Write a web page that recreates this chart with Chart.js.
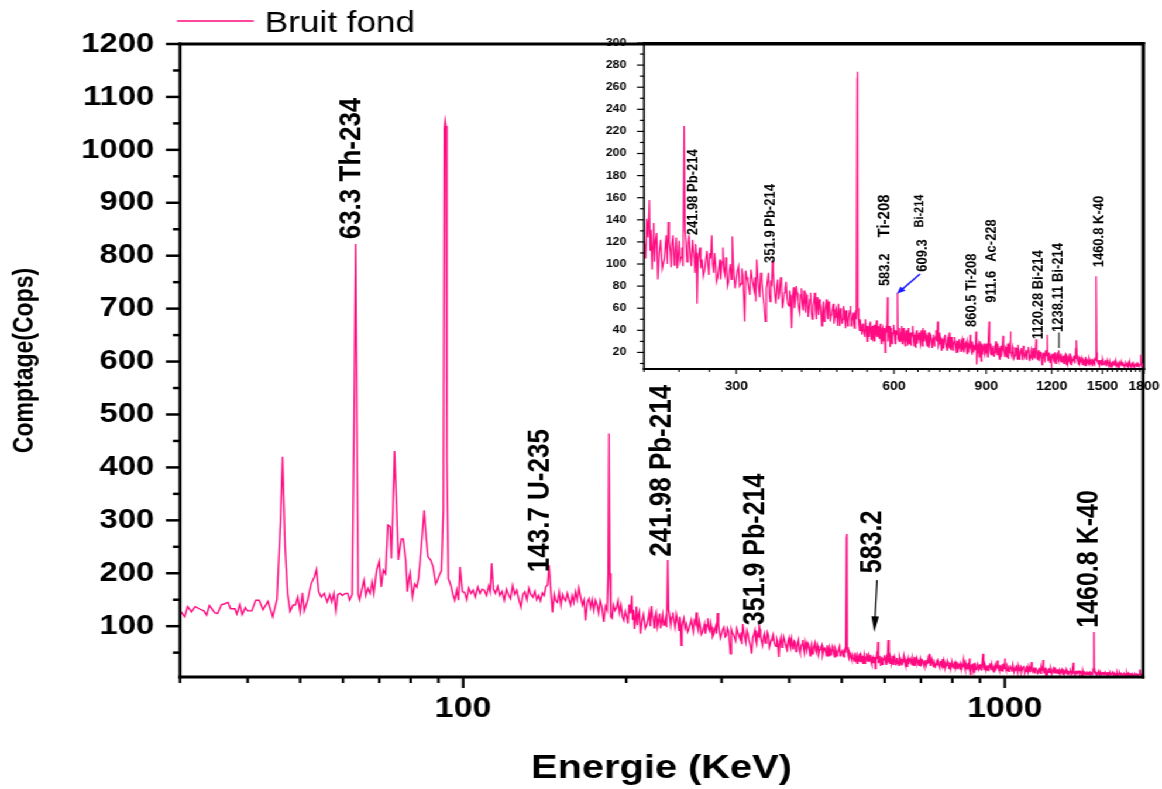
<!DOCTYPE html>
<html>
<head>
<meta charset="utf-8">
<script src="https://cdn.jsdelivr.net/npm/chart.js@4.4.1/dist/chart.umd.min.js"></script>
<style>
  html, body { margin: 0; padding: 0; background: #fff; overflow: hidden; }
  /* the original figure is stretched horizontally, so the whole stage is too */
  #stage { position: absolute; left: 0; top: 0; width: 993px; height: 789px; transform: scaleX(1.1702); transform-origin: 0 0; }
  #main { position: absolute; left: 0; top: 0; }
  #inset { position: absolute; left: 510px; top: 25px; }
</style>
</head>
<body>
<div id="stage">
  <canvas id="main" width="993" height="789"></canvas>
  <canvas id="inset" width="483" height="370"></canvas>
</div>
<script>
// ---- spectrum "Bruit fond": [energy keV, counts] ----
const spectrumLow = [
  [30,130],[30.6,118],[31,137],[31.5,127],[32,137],[32.7,132],[33.2,129],[33.6,121],[34,139],[34.8,125],
  [35.2,124],[35.8,141],[36.2,142],[36.8,145],[37.2,133],[37.9,133],[38.2,123],[38.7,141],[39.1,122],[39.6,135],
  [40,129],[40.7,129],[41.4,149],[42,149],[42.7,131],[43.6,147],[44.5,118],[45.3,150],[46,300],[46.4,420],
  [46.9,250],[47.4,162],[47.9,128],[48.5,140],[49,140],[49.5,155],[50,127],[50.5,163],[50.9,129],[51.6,149],
  [52.4,180],[53.1,193],[53.6,207],[54.1,165],[54.7,155],[55.4,162],[56.1,146],[56.7,160],[57.2,146],[57.7,162],
  [58.2,129],[58.7,160],[59.3,162],[59.8,158],[60.6,162],[61.2,162],[61.7,149],[62.4,160],[62.9,500],[63.3,822],
  [63.7,450],[64,160],[64.4,150],[65,170],[65.6,187],[66.1,158],[66.7,171],[67.3,162],[67.9,184],[68.4,162],
  [69.2,206],[70,223],[70.6,174],[71.2,206],[71.9,199],[72.6,291],[73.3,288],[73.7,228],[74.2,320],[74.7,431],
  [75.3,330],[75.9,225],[76.5,250],[76.9,265],[77.5,265],[78.3,225],[78.9,165],[79.4,190],[79.8,201],[80.6,155],
  [81.4,180],[82.1,174],[82.7,190],[83.2,218],[84,270],[84.7,319],[85.4,270],[86.1,231],[87.1,225],[88,212],
  [89,180],[89.6,186],[90.3,196],[91.2,205],[91.9,320],[92.3,1040],[92.6,1055],[92.9,1045],[93.3,420],[93.9,190],
  [94.9,177],[95.7,160],[96.5,149],[97.3,168],[98,149],[98.7,212],[99.7,165]
];
const spectrumMid = [
  [100.6,164],[101.5,150],[102.4,172],[103.4,162],[104.3,168],[105.3,155],[106.4,174],[107.4,162],[108.4,170],[109.4,168],
  [110.4,158],[111.5,176],[112.2,165],[112.9,219],[113.7,170],[114.7,162],[115.8,175],[116.8,158],[117.9,166],[119.1,149],
  [120.2,170],[121.2,160],[122.3,152],[123.4,177],[124.5,160],[125.6,168],[126.7,150],[127.8,136],[128.9,160],[130,165],
  [131.1,150],[132.2,172],[133.3,160],[134.5,155],[135.6,166],[136.7,150],[137.8,158],[138.9,148],[140,163],[141.1,158],
  [142.2,175],[143.2,178],[144.1,215],[145.1,170],[146.2,126],[147.2,160],[148.2,148],[149.3,145],[150.4,165],[151.5,140],
  [152.6,160],[153.6,152],[154.6,148],[155.7,162],[156.8,150],[157.9,140],[159,158],[160.1,145],[161.2,165],[162.4,150],
  [163.6,172],[164.8,155],[166,140],[167.2,150],[168.3,111],[169.5,145],[170.7,152],[171.9,135],[173.1,150],[174.3,130],
  [175.5,149],[176.7,140],[177.9,125],[179.1,148],[180.4,135],[181.8,108],[183.1,138],[184.4,130],[185.2,200],[185.8,464],
  [186.5,200],[187.3,118],[188.3,115],[189.5,140],[190.7,130],[191.9,135],[193.1,148],[194.3,125],[195.6,140],[196.8,118],
  [197.9,111],[199.2,128]
];
const spectrumHigh = [
  [200.5,118],[202.5,141],[204.8,158],[206.2,131],[207.3,95],[208.8,137],[210.4,120],[212.6,86],[215.2,122],[218.5,104],
  [220.5,126],[222.6,138],[224.5,112],[226.1,118],[228.4,99],[230.5,124],[232.5,108],[234.4,102],[236.5,115],[238.6,225],
  [240.5,120],[242.7,117],[245,110],[247.5,122],[249.4,105],[251,118],[252.6,64],[254.5,108],[256.8,96],[259.7,89],
  [262.4,104],[265,98],[267,110],[269.4,126],[271.7,92],[274,100],[276.5,88],[279,104],[281,95],[283,115],
  [285.5,90],[287.5,98],[290,84],[292.5,100],[294.8,125],[297,90],[300,86],[303,98],[306,82],[309,90],
  [311.5,48],[314,88],[317,78],[320,95],[323,82],[326,88],[328.2,104],[331,80],[334,92],[337,74],
  [340.9,48],[344,84],[347,72],[349.5,85],[351.9,103],[354,80],[357,64],[360,86],[363,74],[366,82],
  [369,66],[372,78],[375,70],[378,62],[380.5,72],[382.7,42],[386,79],[389,68],[392,74],[395,60],
  [398,72],[401,64],[404,76],[407,56],[410,70],[413,60],[416,74],[419,50],[422,66],[425,58],
  [428,70],[431,54],[434,64],[437,44],[440,66],[443,56],[446,68],[449,50],[452,62],[455,54],
  [458,60],[461,46],[464,58],[467,52],[470,64],[473,44],[476,56],[479,50],[482,58],[485,42],
  [488,54],[491,48],[494,58],[497,44],[500,52],[503,46],[506,55],[508.5,50],[510.2,268],[511,274],
  [511.8,60],[514,45],[517,50],[520,40]
];
// channels in between, same region (the noise band is dense)
const spectrumHighFill = [
  [201.5,105],[203.6,124],[205.5,112],[209.6,102],[211.5,128],[213.9,110],[216.8,96],[219.5,114],[221.6,100],[223.5,120],
  [225.3,97],[227.2,126],[229.4,110],[231.5,96],[233.5,121],[235.5,106],[237.5,98],[239.5,130],[241.6,102],[243.8,126],
  [246.2,98],[248.5,112],[250.2,92],[251.8,110],[253.5,100],[255.6,115],[258.2,104],[261,94],[263.7,112],[266,90],
  [268.2,105],[270.5,100],[272.8,110],[275.2,84],[277.8,96],[280,86],[282,102],[284.2,94],[286.5,106],[288.7,80],
  [291.2,94],[293.7,86],[296,104],[298.5,78],[301.5,94],[304.5,80],[307.5,96],[310.2,70],[312.7,94],[315.5,84],
  [318.5,72],[321.5,88],[324.5,76],[327,66],[329.6,90],[332.5,70],[335.5,86],[339,64],[342.5,78],[345.5,92],
  [348.2,66],[350.7,80],[353,94],[355.5,72],[358.5,80],[361.5,68],[364.5,88],[367.5,60],[370.5,74],[373.5,84],
  [376.5,64],[379.3,76],[381.6,58],[384.3,70],[387.5,60],[390.5,80],[393.5,66],[396.5,56],[399.5,78],[402.5,58],
  [405.5,66],[408.5,72],[411.5,52],[414.5,68],[417.5,56],[420.5,62],[423.5,74],[426.5,50],[429.5,62],[432.5,68],
  [435.5,56],[438.5,60],[441.5,48],[444.5,62],[447.5,54],[450.5,66],[453.5,48],[456.5,56],[459.5,64],[462.5,52],
  [465.5,60],[468.5,44],[471.5,56],[474.5,60],[477.5,46],[480.5,62],[483.5,50],[486.5,58],[489.5,44],[492.5,54],
  [495.5,62],[498.5,48],[501.5,56],[504.5,42],[507.2,58],[515.5,40],[518.5,46]
];
const spectrumTail = [
  [523,46],[526,38],[529,50],[532,36],[535,44],[538,34],[541,48],[544,40],[547,30],[550,45],
  [553,36],[556,49],[559,38],[562,33],[565,46],[568,28],[571,42],[574,36],[577,20],[580,44],
  [583.2,70],[586,38],[590,25],[593,42],[596,34],[599,45],[602,33],[605,40],[609.3,74],[612,36],
  [615,42],[618,30],[621,44],[624,34],[627,38],[630,26],[633,40],[636,35],[639,42],[642,28],
  [645,38],[648,33],[651,44],[654,30],[657,36],[660,24],[663,40],[666,32],[670,38],[674,27],
  [678,35],[682,42],[686,30],[690,36],[694,26],[698,38],[702,30],[706,34],[710,24],[714,36],
  [718,30],[722,40],[727,48],[731,28],[735,34],[739,22],[743,32],[747,28],[751,36],[755,25],
  [759,31],[763,27],[767,38],[771,22],[775,30],[779,26],[783,34],[787,24],[791,30],[795,20],
  [799,32],[803,26],[807,30],[811,22],[815,33],[819,25],[823,29],[827,19],[831,28],[835,24],
  [839,36],[843,22],[847,30],[851,20],[855,27],[860.5,39],[864,9],[868,26],[872,20],[876,30],
  [880,12],[884,26],[888,22],[892,28],[896,18],[900,25],[904,21],[908,30],[911.6,48],[915,22],
  [919,28],[924,17],[929,26],[934,20],[939,30],[944,18],[949,24],[954,14],[959,26],[964,22],
  [969,35],[974,19],[979,25],[984,16],[989,28],[994,20],[999,24],[1001,39],[1005,18],[1011,25],
  [1017,15],[1023,24],[1029,20],[1035,27],[1041,14],[1047,22],[1053,18],[1059,26],[1065,16],[1071,22],
  [1077,19],[1083,25],[1089,12],[1095,21],[1101,17],[1107,24],[1113,15],[1120.3,32],[1126,14],[1132,22],
  [1138,16],[1144,20],[1150,9],[1156,19],[1162,14],[1168,22],[1174,17],[1177,36],[1182,12],[1188,20],
  [1194,15],[1198,6],[1204,18],[1210,13],[1216,20],[1222,10],[1228,18],[1233,14],[1238.1,22],[1244,15],
  [1250,19],[1256,11],[1262,17],[1268,13],[1274,18],[1280,9],[1286,16],[1292,12],[1298,19],[1304,10],
  [1310,15],[1316,12],[1322,17],[1328,11],[1334,24],[1338,31],[1344,13],[1350,9],[1356,16],[1362,12],
  [1368,15],[1374,9],[1380,14],[1386,11],[1392,16],[1398,8],[1404,13],[1410,10],[1416,15],[1422,9],
  [1428,12],[1434,8],[1440,13],[1446,10],[1452,14],[1457,20],[1460.8,89],[1464,16],[1470,11],[1476,13],
  [1482,8],[1488,12],[1494,10],[1500,14],[1508,9],[1516,12],[1524,8],[1532,13],[1540,10],[1548,12],
  [1556,7],[1564,11],[1572,9],[1580,12],[1588,8],[1596,10],[1604,7],[1612,11],[1620,9],[1628,12],
  [1636,8],[1644,10],[1652,7],[1660,11],[1668,9],[1676,10],[1684,7],[1692,11],[1700,8],[1708,10],
  [1716,7],[1724,9],[1732,8],[1740,10],[1748,7],[1756,9],[1764,8],[1775,18],[1780,9],[1788,7],
  [1796,10],[1800,8]
];
const spectrumTailFill = [
  [521.5,36],[524.5,42],[527.5,34],[530.5,44],[533.5,30],[536.5,40],[539.5,46],[542.5,32],[545.5,44],[548.5,38],
  [551.5,30],[554.5,42],[557.5,34],[560.5,44],[563.5,38],[566.5,32],[569.5,40],[572.5,30],[575.5,42],[578.5,34],
  [581.5,38],[584.5,30],[588,44],[591.5,36],[594.5,28],[597.5,38],[600.5,40],[603.5,28],[607,36],[610.7,32],
  [613.5,30],[616.5,38],[619.5,34],[622.5,28],[625.5,42],[628.5,32],[631.5,36],[634.5,30],[637.5,26],[640.5,38],
  [643.5,34],[646.5,26],[649.5,36],[652.5,38],[655.5,26],[658.5,34],[661.5,36],[664.5,28],[668,34],[672,30],
  [676,40],[680,26],[684,34],[688,40],[692,29],[696,33],[700,24],[704,36],[708,28],[712,33],
  [716,26],[720,34],[724.5,30],[729,26],[733,38],[737,28],[741,32],[745,24],[749,34],[753,28],
  [757,22],[761,34],[765,24],[769,30],[773,34],[777,22],[781,30],[785,28],[789,20],[793,30],
  [797,24],[801,28],[805,21],[809,32],[813,26],[817,20],[821,28],[825,24],[829,30],[833,20],
  [837,26],[841,28],[845,18],[849,26],[853,24],[858,22],[862,26],[866,20],[870,28],[874,16],
  [878,24],[882,28],[886,18],[890,22],[894,26],[898,20],[902,28],[906,16],[913.5,26],[917,18],
  [921.5,24],[926.5,20],[931.5,16],[936.5,26],[941.5,22],[946.5,28],[951.5,18],[956.5,22],[961.5,16],[966.5,26],
  [971.5,22],[976.5,16],[981.5,24],[986.5,20],[991.5,14],[996.5,26],[1003,21],[1008,16],[1014,22],[1020,17],
  [1026,24],[1032,14],[1038,21],[1044,17],[1050,24],[1056,13],[1062,21],[1068,18],[1074,14],[1080,22],
  [1086,18],[1092,15],[1098,23],[1104,13],[1110,20],[1116,18],[1123,21],[1129,16],[1135,12],[1141,20],
  [1147,16],[1153,14],[1159,20],[1165,11],[1171,18],[1179,16],[1185,19],[1191,11],[1196,16],[1201,13],
  [1207,19],[1213,12],[1219,16],[1225,14],[1230.5,20],[1235.5,12],[1241,17],[1247,12],[1253,16],[1259,14],
  [1265,10],[1271,16],[1277,13],[1283,17],[1289,10],[1295,14],[1301,16],[1307,9],[1313,14],[1319,13],
  [1325,15],[1331,10],[1336,14],[1341,17],[1347,11],[1353,14],[1359,10],[1365,13],[1371,15],[1377,10],
  [1383,13],[1389,8],[1395,14],[1401,10],[1407,12],[1413,9],[1419,13],[1425,11],[1431,14],[1437,10],
  [1443,12],[1449,9],[1454.5,13],[1462.4,20],[1467,12],[1473,9],[1479,12],[1485,10],[1491,13],[1497,8],
  [1504,11],[1512,10],[1520,13],[1528,9],[1536,11],[1544,8],[1552,12],[1560,10],[1568,8],[1576,11],
  [1584,10],[1592,12],[1600,8],[1608,10],[1616,7],[1624,10],[1632,9],[1640,11],[1648,9],[1656,8],
  [1664,10],[1672,7],[1680,11],[1688,8],[1696,9],[1704,7],[1712,9],[1720,10],[1728,7],[1736,9],
  [1744,8],[1752,10],[1760,7],[1769,9],[1784,8],[1792,9]
];

// ---- ticks ----
const mainXTicks = [30, 40, 50, 60, 70, 80, 90, 100, 200, 300, 400, 500, 600, 700, 800, 900, 1000];
const mainXLabels = [100, 1000];
const mainYTicks = [100, 200, 300, 400, 500, 600, 700, 800, 900, 1000, 1100, 1200];
const insetXTicks = [300, 600, 900, 1200, 1500, 1800];
const insetYTicks = [20, 40, 60, 80, 100, 120, 140, 160, 180, 200, 220, 240, 260, 280, 300];

const seriesName = 'Bruit fond';
const pink = '#ff0a80';
const FONT = 'Arial, "Liberation Sans", sans-serif';

const spectrum = [...spectrumLow, ...spectrumMid, ...spectrumHigh, ...spectrumHighFill, ...spectrumTail, ...spectrumTailFill]
  .sort((a, b) => a[0] - b[0])
  .map(p => ({ x: p[0], y: p[1] }));

// minor tick positions (style only)
const mainXMinor = mainXTicks.filter(v => !mainXLabels.includes(v));
const mainYMinor = mainYTicks.map(v => v - 50);
const insetYMinor = insetYTicks.map(v => v - 10);
const insetXMinor = [];
for (let k = 6; k <= 54; k++) if (k % 9) insetXMinor.push(k * 100 / 3);

Chart.defaults.font.family = FONT;
Chart.defaults.color = '#000';

function rotLabel(ctx, text, x, y, size, weight) {
  ctx.save();
  ctx.font = (weight || 'bold') + ' ' + size + 'px ' + FONT;
  ctx.fillStyle = '#000';
  ctx.translate(x + size * 0.358, y);
  ctx.rotate(-Math.PI / 2);
  ctx.textAlign = 'left';
  ctx.textBaseline = 'alphabetic';
  ctx.fillText(text, 0, 0);
  ctx.restore();
}

function arrow(ctx, x1, y1, x2, y2, color, lw, head, spread) {
  const a = Math.atan2(y2 - y1, x2 - x1);
  ctx.save();
  ctx.strokeStyle = color;
  ctx.fillStyle = color;
  ctx.lineWidth = lw;
  ctx.beginPath();
  ctx.moveTo(x1, y1);
  ctx.lineTo(x2 - Math.cos(a) * head * 0.7, y2 - Math.sin(a) * head * 0.7);
  ctx.stroke();
  ctx.beginPath();
  ctx.moveTo(x2, y2);
  ctx.lineTo(x2 - head * Math.cos(a - spread), y2 - head * Math.sin(a - spread));
  ctx.lineTo(x2 - head * Math.cos(a + spread), y2 - head * Math.sin(a + spread));
  ctx.closePath();
  ctx.fill();
  ctx.restore();
}

const decor = {
  id: 'decor',
  afterDatasetsDraw(chart, args, o) {
    const { ctx, chartArea: a } = chart;
    const xs = chart.scales.x, ys = chart.scales.y;
    ctx.save();
    ctx.strokeStyle = '#000';
    ctx.lineCap = 'butt';

    ctx.lineWidth = o.xTickW;
    const xt = (list, len) => list.forEach(v => {
      const p = xs.getPixelForValue(v);
      ctx.beginPath(); ctx.moveTo(p, a.bottom); ctx.lineTo(p, a.bottom + len); ctx.stroke();
    });
    xt(o.xMajor, o.xMajorLen);
    xt(o.xMinor, o.xMinorLen);

    ctx.lineWidth = o.yTickW;
    const yt = (list, len) => list.forEach(v => {
      const p = ys.getPixelForValue(v);
      ctx.beginPath(); ctx.moveTo(a.left, p); ctx.lineTo(a.left - len, p); ctx.stroke();
    });
    yt(o.yMajor, o.yMajorLen);
    yt(o.yMinor, o.yMinorLen);

    // frame
    ctx.lineWidth = o.hLine;
    ctx.beginPath();
    ctx.moveTo(a.left - o.vLine / 2, a.top); ctx.lineTo(a.right + o.vLine / 2, a.top);
    ctx.moveTo(a.left - o.vLine / 2, a.bottom); ctx.lineTo(a.right + o.vLine / 2, a.bottom);
    ctx.stroke();
    ctx.lineWidth = o.vLine;
    ctx.beginPath();
    ctx.moveTo(a.left, a.top - o.hLine / 2); ctx.lineTo(a.left, a.bottom + o.hLine / 2);
    ctx.moveTo(a.right, a.top - o.hLine / 2); ctx.lineTo(a.right, a.bottom + o.hLine / 2);
    ctx.stroke();

    // peak labels
    o.notes.forEach(n => rotLabel(ctx, n.t, xs.getPixelForValue(n.e), ys.getPixelForValue(n.c), n.size));
    o.arrows.forEach(r => arrow(ctx,
      xs.getPixelForValue(r.from[0]), ys.getPixelForValue(r.from[1]),
      xs.getPixelForValue(r.to[0]), ys.getPixelForValue(r.to[1]),
      r.color, r.lw, r.head, r.spread));
    o.leaders.forEach(r => {
      ctx.lineWidth = 1;
      ctx.beginPath();
      ctx.moveTo(xs.getPixelForValue(r.from[0]), ys.getPixelForValue(r.from[1]));
      ctx.lineTo(xs.getPixelForValue(r.to[0]), ys.getPixelForValue(r.to[1]));
      ctx.stroke();
    });

    if (o.legend) {
      ctx.strokeStyle = pink;
      ctx.lineWidth = 1.3;
      ctx.beginPath();
      ctx.moveTo(a.left - 2.5, 21); ctx.lineTo(a.left + 63, 21);
      ctx.stroke();
      ctx.fillStyle = '#000';
      ctx.font = '30px ' + FONT;
      ctx.textAlign = 'left';
      ctx.textBaseline = 'alphabetic';
      ctx.fillText(seriesName, a.left + 72.5, 31.5);
    }
    ctx.restore();
  }
};

function fixX(h) {
  return s => { s.height = h; s.paddingLeft = 0; s.paddingRight = 0; };
}
function fixY(w) {
  return s => { s.width = w; s.paddingTop = 0; s.paddingBottom = 0; };
}

// ---- main chart ----
new Chart(document.getElementById('main'), {
  type: 'line',
  data: {
    datasets: [{
      label: seriesName,
      data: spectrum,
      borderColor: pink,
      borderWidth: 1.4,
      pointRadius: 0,
      tension: 0,
      fill: false
    }]
  },
  options: {
    responsive: false,
    animation: false,
    devicePixelRatio: 1,
    layout: { padding: { top: 44, right: 16.2, left: 0, bottom: 0 } },
    plugins: {
      legend: { display: false },
      tooltip: { enabled: false },
      decor: {
        legend: true,
        hLine: 3, vLine: 2.6, xTickW: 2.2, yTickW: 2.5,
        xMajor: mainXLabels, xMinor: mainXMinor, xMajorLen: 11, xMinorLen: 6,
        yMajor: mainYTicks, yMinor: mainYMinor, yMajorLen: 12, yMinorLen: 6,
        notes: [
          { t: '63.3 Th-234', e: 61.8, c: 831, size: 26 },
          { t: '143.7 U-235', e: 137.7, c: 202, size: 26 },
          { t: '241.98 Pb-214', e: 230.2, c: 231, size: 26 },
          { t: '351.9 Pb-214', e: 344.2, c: 102, size: 25 },
          { t: '583.2', e: 564.7, c: 200, size: 25 },
          { t: '1460.8 K-40', e: 1421, c: 97, size: 25 }
        ],
        arrows: [{ from: [580.9, 187], to: [574.3, 89], color: '#000', lw: 1.2, head: 16, spread: 0.2 }],
        leaders: []
      }
    },
    scales: {
      x: {
        type: 'logarithmic',
        min: 30, max: 1800,
        afterBuildTicks: s => { s.ticks = mainXTicks.map(v => ({ value: v })); },
        afterFit: fixX(112),
        grid: { display: false, drawTicks: false },
        border: { display: false },
        ticks: {
          autoSkip: false, maxRotation: 0, padding: 15,
          font: { size: 29, weight: 'bold' },
          callback: v => mainXLabels.includes(v) ? String(v) : ''
        },
        title: {
          display: true, text: 'Energie (KeV)',
          font: { size: 34, weight: 'bold' },
          padding: { top: 2, bottom: 0 }
        }
      },
      y: {
        min: 4, max: 1200,
        afterBuildTicks: s => { s.ticks = mainYTicks.map(v => ({ value: v })); },
        afterFit: fixY(153.8),
        grid: { display: false, drawTicks: false },
        border: { display: false },
        ticks: { padding: 22, font: { size: 28, weight: 'bold' }, callback: v => String(v) },
        title: {
          display: true, text: 'Comptage(Cops)',
          font: { size: 23, weight: 'bold' },
          padding: { top: 7.5, bottom: 0 }
        }
      }
    }
  },
  plugins: [decor]
});

// ---- inset ----
new Chart(document.getElementById('inset'), {
  type: 'line',
  data: {
    datasets: [{
      label: seriesName,
      data: spectrum,
      borderColor: pink,
      borderWidth: 1.2,
      pointRadius: 0,
      tension: 0,
      fill: false
    }]
  },
  options: {
    responsive: false,
    animation: false,
    devicePixelRatio: 1,
    layout: { padding: { top: 18, right: 15.4, left: 0, bottom: 0 } },
    plugins: {
      legend: { display: false },
      tooltip: { enabled: false },
      decor: {
        legend: false,
        hLine: 2, vLine: 1.6, xTickW: 1.1, yTickW: 1.2,
        xMajor: insetXTicks, xMinor: insetXMinor, xMajorLen: 5, xMinorLen: 3,
        yMajor: insetYTicks, yMinor: insetYMinor, yMajorLen: 6, yMinorLen: 3.5,
        notes: [
          { t: '241.98 Pb-214', e: 246.4, c: 126, size: 13 },
          { t: '351.9 Pb-214', e: 346.4, c: 101, size: 13 },
          { t: 'Ti-208', e: 570.5, c: 124, size: 15 },
          { t: '583.2', e: 574.1, c: 80, size: 13 },
          { t: 'Bi-214', e: 669.7, c: 133, size: 11 },
          { t: '609.3', e: 675.6, c: 93, size: 13 },
          { t: '860.5 Ti-208', e: 837.9, c: 43, size: 13 },
          { t: '911.6', e: 918, c: 65, size: 13 },
          { t: 'Ac-228', e: 918, c: 102, size: 13 },
          { t: '1120.28 Bi-214', e: 1124.7, c: 32, size: 13 },
          { t: '1238.11 Bi-214', e: 1228, c: 38.5, size: 13 },
          { t: '1460.8 K-40', e: 1474, c: 97, size: 13 }
        ],
        arrows: [{ from: [672.7, 91], to: [607.8, 73], color: '#1e1eff', lw: 1.5, head: 8, spread: 0.4 }],
        leaders: [{ from: [1239, 38], to: [1239, 24] }]
      }
    },
    scales: {
      x: {
        type: 'logarithmic',
        min: 200, max: 1800,
        afterBuildTicks: s => { s.ticks = insetXTicks.map(v => ({ value: v })); },
        afterFit: fixX(26),
        grid: { display: false, drawTicks: false },
        border: { display: false },
        ticks: {
          autoSkip: false, maxRotation: 0, padding: 10,
          font: { size: 12, weight: 'bold' },
          callback: v => String(v)
        }
      },
      y: {
        min: 5, max: 300,
        afterBuildTicks: s => { s.ticks = insetYTicks.map(v => ({ value: v })); },
        afterFit: fixY(40.3),
        grid: { display: false, drawTicks: false },
        border: { display: false },
        ticks: { padding: 15, font: { size: 10.5, weight: 'bold' }, callback: v => String(v) }
      }
    }
  },
  plugins: [decor]
});
</script>
</body>
</html>
